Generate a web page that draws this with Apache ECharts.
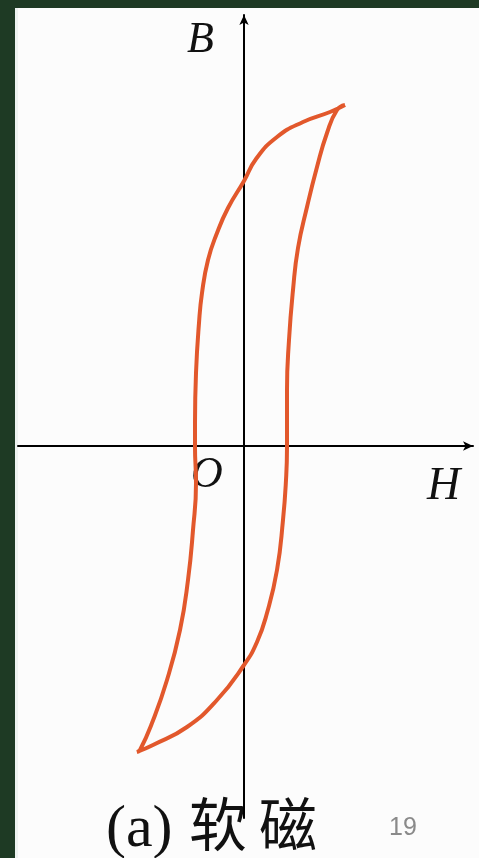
<!DOCTYPE html>
<html>
<head>
<meta charset="utf-8">
<script src="https://cdn.jsdelivr.net/npm/echarts@6/dist/echarts.min.js"></script>
<style>
  html, body { margin: 0; padding: 0; background: #1e3a24; }
  #chart { width: 479px; height: 858px; }
</style>
</head>
<body>
<div id="chart"></div>
<script>
// hysteresis loop of a soft magnetic material (arbitrary units)
var downH = [101, 86, 59, 33, 12, 0, -16, -27, -36, -42, -45, -48, -49, -49, -48, -51, -56, -64, -77, -92, -104, -107]
var downB = [341, 334, 324, 309, 287, 265, 238, 213, 186, 153, 123, 73, 23, -1, -37, -84, -134, -184, -234, -277, -304, -306]
var upH = [-107, -91, -57, -27, 0, 13, 23, 33, 39, 42, 43, 43, 45, 49, 54, 63, 73, 83, 93, 101]
var upB = [-306, -299, -281, -254, -219, -196, -167, -124, -74, -34, -1, 56, 106, 156, 198, 239, 279, 313, 336, 341]

var loop = []
downH.forEach(function (h, i) { loop.push([h, downB[i]]) })
upH.forEach(function (h, i) { if (i > 0) loop.push([h, upB[i]]) })

var myChart = echarts.init(document.getElementById('chart'))
myChart.setOption({
  backgroundColor: '#1e3a24',
  animation: false,
  grid: {
    left: 18,
    right: 6,
    top: 15,
    bottom: 40,
  },
  xAxis: {
    type: 'value',
    min: -226,
    max: 229,
    axisLine: {
      onZero: true,
      symbol: ['none', 'arrow'],
      symbolSize: [7, 10],
      lineStyle: { color: '#000', width: 2 },
    },
    axisTick: { show: false },
    axisLabel: { show: false },
    splitLine: { show: false },
  },
  yAxis: {
    type: 'value',
    min: -372,
    max: 431,
    axisLine: {
      onZero: true,
      symbol: ['none', 'arrow'],
      symbolSize: [7, 10],
      lineStyle: { color: '#000', width: 2 },
    },
    axisTick: { show: false },
    axisLabel: { show: false },
    splitLine: { show: false },
  },
  graphic: [
    {
      type: 'rect',
      z: -10,
      shape: { x: 15, y: 8, width: 464, height: 850 },
      style: { fill: '#fcfcfc' },
    },
    {
      type: 'rect',
      z: -9,
      shape: { x: 15, y: 8, width: 3, height: 850 },
      style: { fill: '#eef3f1' },
    },
    {
      type: 'text',
      left: 187,
      top: 18,
      style: { text: 'B', font: 'italic 44px "Liberation Serif"', fill: '#111' },
    },
    {
      type: 'text',
      left: 427,
      top: 464,
      style: { text: 'H', font: 'italic 46px "Liberation Serif"', fill: '#111' },
    },
    {
      type: 'text',
      left: 191,
      top: 453,
      style: { text: 'O', font: 'italic 44px "Liberation Serif"', fill: '#111' },
    },
    {
      type: 'text',
      left: 106,
      top: 800,
      style: { text: '(a)', font: '60px "Liberation Serif"', fill: '#111' },
    },
    {
      type: 'text',
      left: 189,
      top: 795,
      style: { text: '软', font: '58px "Noto Sans CJK SC"', fill: '#111' },
    },
    {
      type: 'text',
      left: 259,
      top: 795,
      style: { text: '磁', font: '58px "Noto Sans CJK SC"', fill: '#111' },
    },
    {
      type: 'text',
      left: 389,
      top: 816,
      style: { text: '19', font: '25px "Liberation Sans"', fill: '#8a8a8a' },
    },
  ],
  series: [
    {
      type: 'line',
      data: loop,
      smooth: 0.5,
      showSymbol: false,
      lineStyle: { color: '#e2582c', width: 4 },
    },
  ],
})
</script>
</body>
</html>
